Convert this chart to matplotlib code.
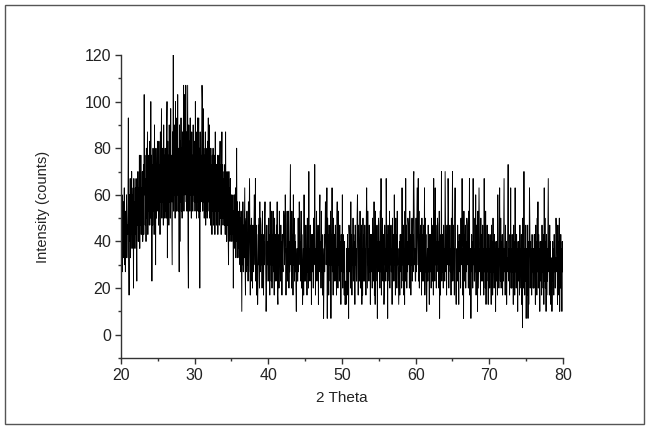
import numpy as np
import matplotlib
matplotlib.use("Agg")
import matplotlib.pyplot as plt
from matplotlib.patches import Rectangle

plt.rcParams['font.family'] = ['Liberation Sans', 'DejaVu Sans']

# intensity (counts), 2theta step 0.05 deg, one row per degree
counts_20_30 = [
    30, 53, 37, 60, 27, 47, 33, 57, 40, 63, 30, 50, 27, 53, 37, 60, 33, 47, 43, 57,
    93, 37, 17, 60, 40, 67, 33, 57, 43, 70, 37, 60, 47, 63, 20, 67, 40, 57, 37, 63,
    43, 67, 40, 23, 60, 47, 70, 40, 63, 43, 77, 37, 67, 47, 77, 43, 63, 50, 70, 40,
    50, 73, 43, 103, 60, 77, 47, 67, 40, 80, 50, 70, 87, 43, 77, 53, 67, 47, 83, 50,
    53, 100, 47, 77, 23, 73, 47, 80, 53, 70, 43, 90, 57, 77, 30, 80, 50, 70, 53, 83,
    57, 77, 47, 83, 53, 73, 43, 87, 57, 77, 97, 50, 80, 57, 73, 47, 90, 53, 77, 50,
    80, 53, 77, 50, 87, 100, 33, 83, 53, 77, 47, 90, 57, 80, 50, 97, 57, 77, 53, 30,
    87, 57, 120, 53, 80, 60, 90, 50, 100, 57, 83, 53, 93, 60, 103, 53, 80, 60, 27, 90,
    40, 83, 57, 93, 53, 80, 50, 87, 60, 77, 107, 53, 83, 103, 60, 80, 107, 57, 87, 53,
    80, 107, 37, 20, 90, 57, 83, 53, 93, 60, 80, 50, 87, 57, 77, 53, 90, 60, 80, 57,
]
counts_30_40 = [
    83, 53, 100, 57, 80, 50, 87, 57, 93, 53, 77, 93, 50, 80, 20, 87, 53, 77, 57, 83,
    107, 100, 53, 97, 57, 80, 50, 77, 57, 87, 47, 80, 53, 77, 50, 83, 53, 93, 57, 87,
    90, 50, 77, 47, 80, 53, 73, 43, 77, 53, 80, 47, 73, 50, 77, 43, 87, 53, 73, 47,
    73, 50, 77, 43, 70, 53, 77, 47, 70, 83, 50, 73, 43, 70, 87, 50, 73, 47, 67, 50,
    70, 47, 73, 43, 87, 50, 67, 40, 70, 47, 67, 43, 30, 70, 47, 63, 40, 67, 43, 60,
    60, 40, 57, 43, 60, 20, 53, 37, 60, 40, 57, 63, 33, 53, 80, 40, 57, 33, 53, 37,
    50, 33, 57, 30, 50, 27, 53, 33, 10, 50, 30, 57, 27, 47, 33, 50, 63, 30, 17, 47,
    50, 27, 53, 30, 43, 23, 57, 27, 47, 67, 40, 17, 47, 27, 50, 23, 43, 20, 47, 30,
    27, 47, 60, 50, 30, 67, 23, 47, 17, 43, 27, 13, 23, 47, 30, 50, 20, 57, 27, 50,
    47, 30, 43, 20, 53, 27, 43, 17, 40, 30, 50, 57, 43, 27, 10, 20, 47, 30, 40, 23,
]
counts_40_50 = [
    23, 50, 27, 43, 17, 57, 30, 40, 23, 53, 20, 43, 30, 53, 27, 37, 17, 50, 23, 43,
    40, 23, 47, 30, 57, 17, 13, 27, 43, 20, 53, 30, 37, 23, 47, 27, 40, 17, 43, 30,
    27, 43, 53, 50, 30, 40, 60, 47, 17, 37, 27, 53, 23, 43, 30, 53, 20, 40, 27, 50,
    73, 30, 40, 20, 53, 27, 43, 17, 60, 30, 50, 23, 43, 27, 40, 20, 10, 30, 37, 23,
    23, 50, 27, 43, 57, 47, 30, 40, 23, 53, 20, 43, 30, 13, 27, 37, 17, 60, 23, 43,
    40, 23, 47, 30, 37, 17, 50, 27, 43, 20, 70, 30, 37, 23, 47, 27, 40, 13, 43, 30,
    27, 43, 20, 50, 30, 40, 73, 47, 17, 37, 27, 53, 23, 43, 30, 47, 13, 40, 27, 50,
    60, 30, 40, 20, 53, 27, 43, 17, 37, 30, 7, 23, 43, 27, 40, 57, 47, 30, 37, 63,
    7, 50, 27, 43, 17, 47, 30, 40, 23, 53, 7, 43, 30, 63, 27, 37, 17, 50, 23, 43,
    40, 23, 47, 30, 37, 17, 50, 57, 43, 20, 53, 30, 37, 23, 47, 27, 40, 13, 43, 30,
]
counts_50_60 = [
    27, 60, 20, 43, 27, 37, 17, 40, 13, 13, 23, 13, 20, 37, 27, 43, 17, 37, 7, 47,
    43, 27, 40, 20, 57, 27, 43, 17, 37, 30, 50, 23, 43, 27, 40, 13, 47, 30, 37, 23,
    23, 50, 60, 43, 17, 47, 30, 40, 23, 53, 20, 43, 30, 47, 13, 37, 17, 50, 23, 43,
    40, 23, 47, 30, 37, 17, 50, 63, 43, 20, 53, 30, 37, 23, 47, 27, 40, 13, 43, 30,
    27, 43, 20, 50, 30, 40, 23, 57, 17, 37, 13, 53, 23, 43, 30, 47, 7, 40, 27, 50,
    47, 30, 40, 20, 53, 27, 67, 17, 37, 30, 50, 23, 43, 27, 13, 20, 47, 30, 37, 23,
    67, 50, 27, 43, 7, 47, 30, 40, 23, 53, 20, 43, 30, 47, 27, 37, 13, 50, 23, 43,
    40, 23, 60, 30, 37, 17, 50, 27, 43, 20, 53, 30, 37, 23, 13, 27, 40, 17, 43, 30,
    27, 43, 20, 63, 30, 40, 23, 47, 17, 37, 13, 53, 23, 67, 30, 47, 20, 40, 27, 50,
    47, 30, 40, 20, 53, 27, 43, 17, 37, 30, 50, 23, 43, 27, 67, 70, 47, 30, 37, 23,
]
counts_60_70 = [
    23, 50, 27, 43, 63, 47, 30, 67, 23, 53, 20, 43, 30, 47, 27, 37, 17, 50, 23, 43,
    40, 23, 47, 30, 63, 17, 50, 27, 43, 20, 10, 30, 37, 23, 47, 27, 40, 13, 43, 30,
    27, 43, 20, 50, 30, 40, 23, 47, 17, 67, 27, 53, 23, 63, 30, 47, 20, 40, 27, 50,
    47, 30, 40, 20, 53, 7, 43, 17, 37, 30, 70, 23, 43, 27, 40, 20, 47, 30, 37, 23,
    70, 50, 27, 43, 17, 47, 30, 40, 67, 53, 20, 43, 30, 47, 27, 37, 17, 50, 23, 43,
    70, 23, 47, 30, 37, 17, 50, 63, 43, 20, 13, 30, 37, 23, 47, 27, 40, 13, 43, 30,
    27, 43, 20, 50, 30, 40, 67, 47, 17, 37, 7, 53, 23, 43, 30, 47, 20, 40, 27, 50,
    47, 30, 40, 20, 53, 27, 67, 17, 37, 30, 7, 23, 43, 27, 40, 20, 67, 30, 37, 23,
    23, 50, 27, 60, 17, 47, 30, 40, 10, 53, 20, 43, 63, 47, 27, 37, 17, 50, 23, 43,
    40, 23, 47, 30, 37, 17, 67, 27, 43, 20, 53, 13, 37, 23, 47, 27, 40, 13, 43, 30,
]
counts_70_80 = [
    37, 20, 43, 27, 33, 13, 47, 23, 40, 17, 50, 27, 33, 20, 43, 23, 37, 10, 40, 27,
    23, 40, 17, 60, 27, 37, 20, 43, 63, 33, 23, 50, 20, 40, 27, 43, 17, 37, 23, 47,
    67, 27, 37, 17, 47, 23, 40, 13, 33, 27, 47, 73, 40, 23, 37, 17, 43, 27, 63, 20,
    37, 20, 43, 27, 33, 13, 47, 23, 40, 17, 63, 27, 33, 20, 43, 23, 37, 10, 40, 27,
    23, 40, 17, 47, 27, 37, 20, 43, 13, 33, 3, 50, 20, 40, 70, 43, 17, 37, 23, 47,
    7, 27, 37, 17, 47, 7, 40, 13, 33, 63, 47, 20, 40, 23, 37, 17, 43, 27, 33, 20,
    37, 20, 43, 27, 33, 13, 47, 23, 40, 17, 50, 27, 57, 20, 43, 23, 37, 10, 40, 27,
    23, 40, 17, 47, 27, 37, 20, 43, 13, 63, 23, 50, 20, 40, 10, 43, 17, 37, 23, 47,
    67, 27, 37, 17, 47, 23, 40, 13, 33, 27, 10, 20, 40, 23, 37, 17, 43, 27, 33, 20,
    37, 50, 43, 27, 33, 13, 47, 23, 40, 17, 50, 10, 33, 20, 43, 23, 37, 10, 40, 27,
    27,
]

intensity = np.array(counts_20_30 + counts_30_40 + counts_40_50
                     + counts_50_60 + counts_60_70 + counts_70_80, dtype=float)
two_theta = np.linspace(20, 80, len(intensity))

fig = plt.figure(figsize=(6.49, 4.29), dpi=100)
ax = fig.add_axes([0.1864, 0.1655, 0.6811, 0.7063])

ax.plot(two_theta, intensity, color='black', lw=0.65)

ax.set_xlim(20, 80)
ax.set_ylim(-10, 120)
ax.set_xticks(np.arange(20, 81, 10))
ax.set_xticks(np.arange(25, 80, 10), minor=True)
ax.set_yticks(np.arange(0, 121, 20))
ax.set_yticks(np.arange(-10, 120, 20), minor=True)

for s in ('top', 'right'):
    ax.spines[s].set_visible(False)
for s in ('left', 'bottom'):
    ax.spines[s].set_color('#333333')
    ax.spines[s].set_linewidth(1.0)

ax.tick_params(which='major', length=4, width=1, color='#333333',
               labelsize=11.5, labelcolor='#222222', pad=3)
ax.tick_params(which='minor', length=2.5, width=1, color='#333333')

ax.set_xlabel('2 Theta', fontsize=11, color='#222222', labelpad=6)
ax.set_ylabel('Intensity (counts)', fontsize=10.5, color='#222222')
ax.yaxis.set_label_coords(-0.161, 0.5)

# frame around the whole picture
fig.patches.append(Rectangle((0.008, 0.012), 0.984, 0.976, transform=fig.transFigure,
                             fill=False, edgecolor='#555555', lw=1.0))

fig.savefig('out.png', dpi=100)
